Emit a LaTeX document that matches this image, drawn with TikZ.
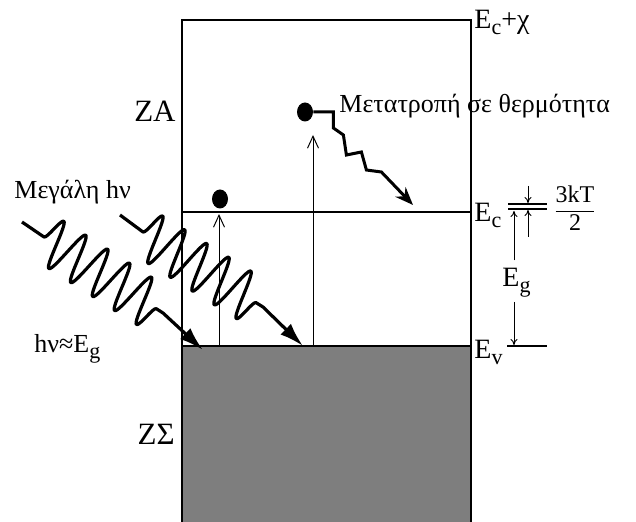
\documentclass[tikz,border=0pt]{standalone}
\usepackage{fontspec}
\setmainfont{Liberation Serif}
\usetikzlibrary{arrows.meta, decorations.pathmorphing, shapes.geometric}
\definecolor{cBand}{HTML}{7E7E7E}
\newcommand\lowsub[1]{\raisebox{-0.45ex}{\fontsize{11}{11}\selectfont #1}}
\tikzset{
  edge/.style={line width=0.8pt},
  tick/.style={line width=0.6pt},
  lbl/.style={font=\fontsize{13}{15}\selectfont, inner sep=0pt},
  elbl/.style={lbl, font=\fontsize{14}{16}\selectfont},
  zlbl/.style={lbl, font=\fontsize{15.5}{17}\selectfont},
  elec/.style={ellipse, fill=black, minimum width=8pt, minimum height=9.5pt, inner sep=0pt},
  arrow/.style={-{Straight Barb[length=6pt,width=5.5pt]}, line width=0.5pt},
  sarrow/.style={-{To[length=3pt,width=3.5pt]}, line width=0.5pt},
  photon/.style={line width=1.6pt, line join=round, -{Latex[length=12pt,width=7.5pt]}},
  wave/.style={decoration={snake, segment length=13pt, amplitude=12pt}},
  heat/.style={line width=1.5pt, line join=miter, -{Stealth[length=9pt,width=7pt]}},
}
\begin{document}
\begin{tikzpicture}[x=0.5pt,y=-0.5pt]
  \useasboundingbox (0,0) rectangle (636,522);

  % bands
  \fill[cBand] (182,346) rectangle (471,522);
  \draw[edge] (182,522) -- (182,20) -- (471,20) -- (471,522);
  \draw[edge] (182,212) -- (471,212);
  \draw[edge] (182,346) -- (471,346);

  % level labels
  \node[elbl, anchor=base west] (ecx) at (474,29) {E\lowsub{c}+χ};
  \node[elbl, anchor=base west] (ec)  at (474,222) {E\lowsub{c}};
  \node[elbl, anchor=base west] (ev)  at (474,359) {E\lowsub{v}};
  \node[zlbl, anchor=base east] (za)  at (176,122) {ZA};
  \node[zlbl, anchor=base east] (zs)  at (175,445) {ZΣ};
  \node[lbl, anchor=base west] (big) at (14,199) {Μεγάλη hν};
  \node[lbl, anchor=base west] (heq) at (34,353) {hν≈E\lowsub{g}};
  \node[lbl, anchor=base west] (conv) at (339,113) {Μετατροπή σε θερμότητα};

  % electrons
  \node[elec] (e1) at (220,199) {};
  \node[elec] (e2) at (305,112) {};
  \coordinate (v1) at (219,346);
  \coordinate (t1) at (219,214);
  \coordinate (v2) at (313,346);
  \coordinate (t2) at (313,135);
  \draw[arrow] (v1) -- (t1);
  \draw[arrow] (v2) -- (t2);

  % thermalisation
  \coordinate (hend) at (413,205);
  \draw[heat] (e2.east) -- ++(20,0) -- ++(0,16) -- ++(10,7) -- ++(3,20)
    -- ++(15,-3) -- ++(5,18) -- ++(15,2) -- (hend);

  % photons
  \coordinate (p1a) at (22,222);
  \coordinate (p1b) at (44,237);
  \coordinate (p1c) at (163,313);
  \coordinate (p1d) at (203,350);
  \coordinate (p2a) at (120,215);
  \coordinate (p2b) at (143,232);
  \coordinate (p2c) at (263,307);
  \coordinate (p2d) at (303,346);
  \draw[photon] (p1a) -- (p1b) decorate[wave] {-- (p1c)} -- (p1d);
  \draw[photon] (p2a) -- (p2b) decorate[wave] {-- (p2c)} -- (p2d);

  % energy scale
  \draw[tick] (508,204) -- (547,204);
  \draw[tick] (508,209) -- (547,209);
  \draw[tick] (507,346) -- (547,346);
  \coordinate (kt0) at (528,186);
  \coordinate (kt1) at (528,203);
  \coordinate (kt2) at (528,237);
  \coordinate (kt3) at (528,210);
  \draw[sarrow] (kt0) -- (kt1);
  \draw[sarrow] (kt2) -- (kt3);
  \node[elbl, anchor=base west] (eg) at (502,287) {E\lowsub{g}};
  \coordinate (egt) at (514,211);
  \coordinate (egb) at (514,345);
  \draw[sarrow] (eg.north -| egt) ++(0,-8) -- (egt);
  \draw[sarrow] (eg.south -| egb) ++(0,4) -- (egb);
  \node[lbl, font=\fontsize{12}{14}\selectfont] (kt) at (575,211)
    {\begin{tabular}{@{}c@{}}3kT\\\hline 2\end{tabular}};
\end{tikzpicture}
\end{document}
